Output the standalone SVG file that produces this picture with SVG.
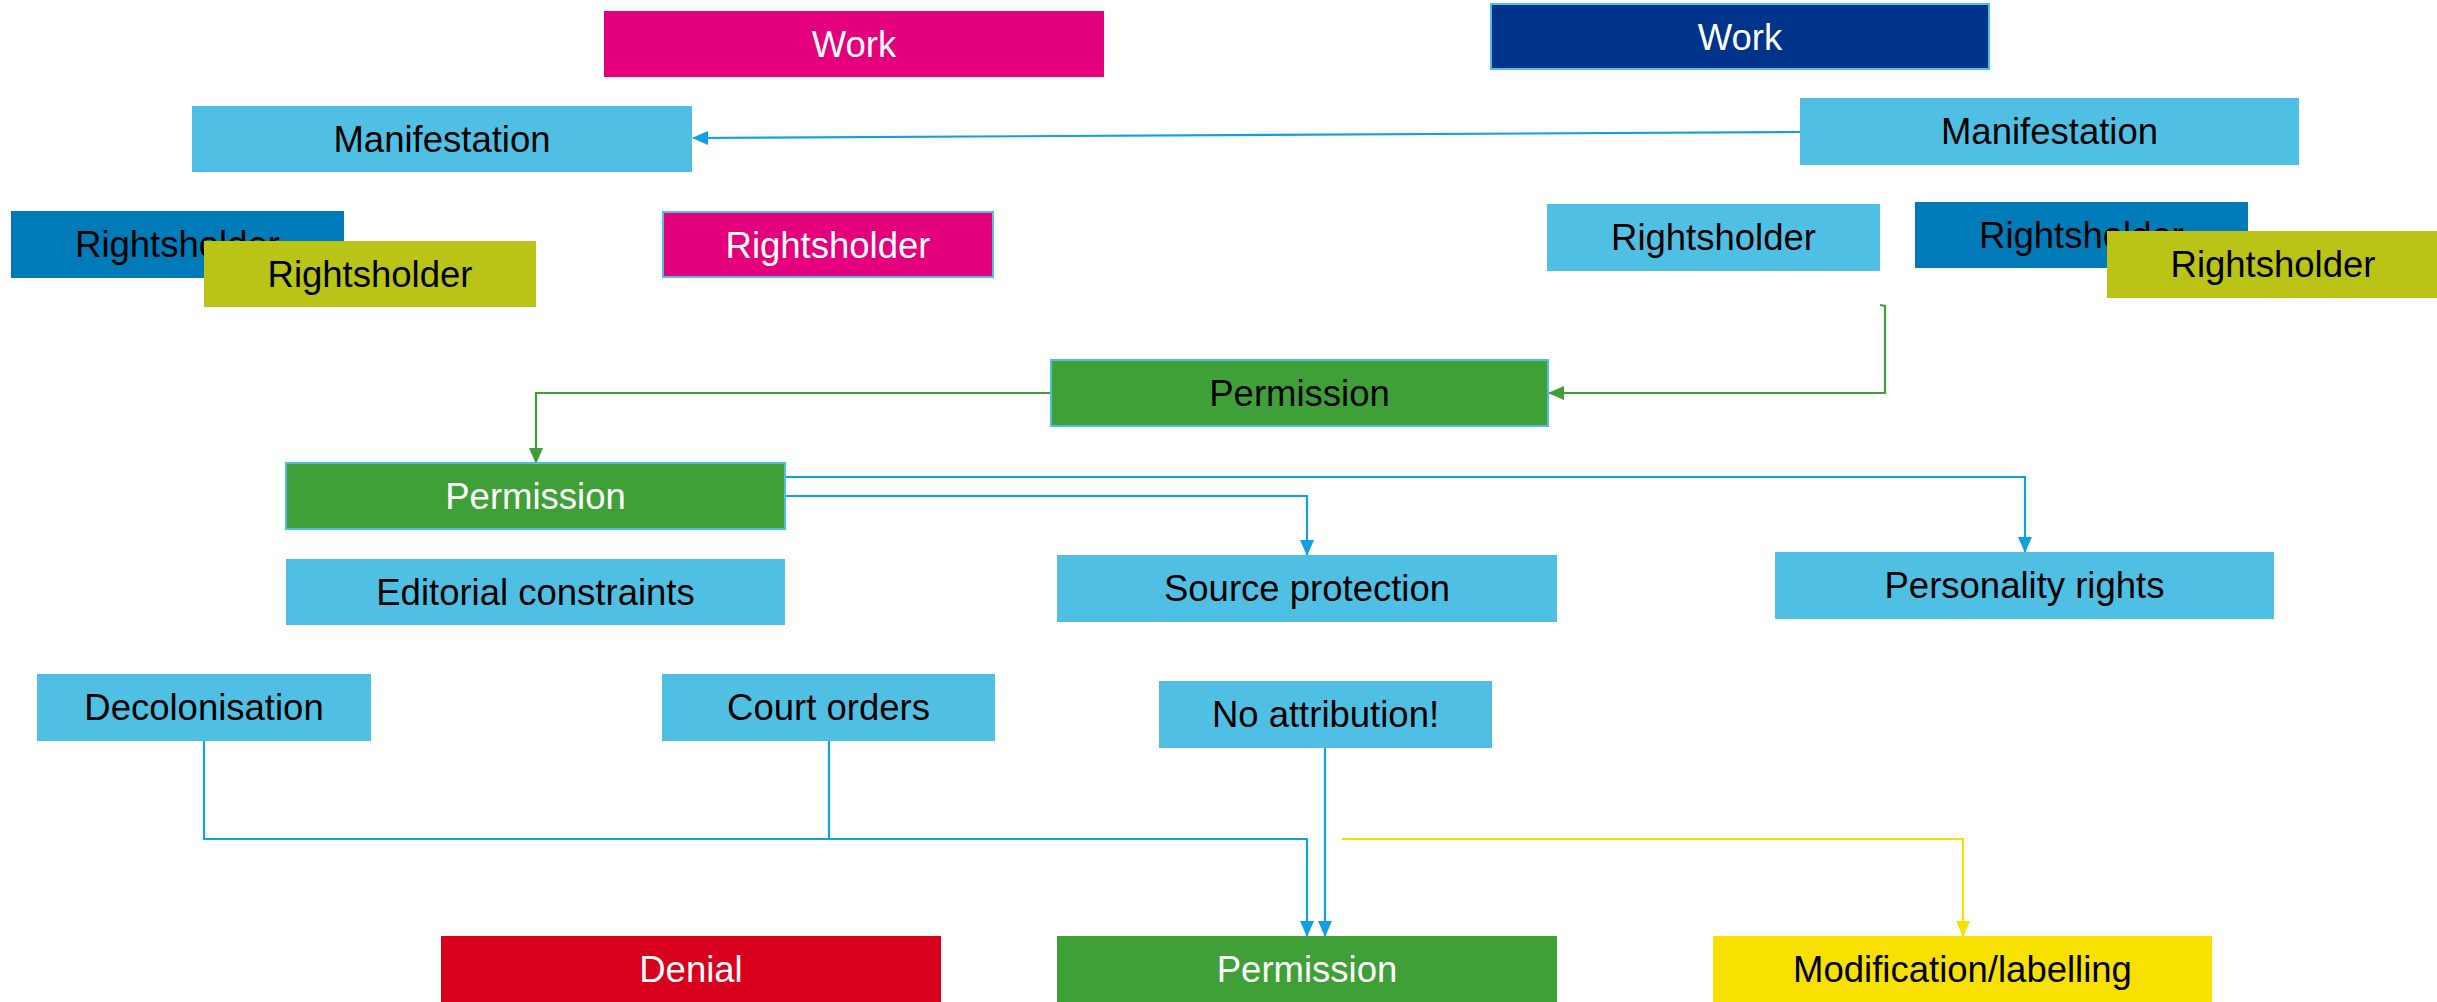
<svg xmlns="http://www.w3.org/2000/svg" width="2437" height="1002" viewBox="0 0 2437 1002">
<style>
text{font-family:"Liberation Sans",Arial,sans-serif;font-size:36.5px;text-anchor:middle}
.w{fill:#ffffff}.k{fill:#000000}
.lb{fill:#4FC0E3}.pk{fill:#E4007C}.nv{fill:#00338A}.db{fill:#007BB9}.ol{fill:#BAC417}.gr{fill:#3FA037}.rd{fill:#D9001D}.yl{fill:#F8E000}
.bd{stroke:#4FC0E3;stroke-width:2}
.cb{fill:none;stroke:#13A0E3;stroke-width:2.2}
.cg{fill:none;stroke:#3F9E36;stroke-width:2.2}
.cy{fill:none;stroke:#F6E000;stroke-width:2.2}
</style>
<defs>
<marker id="ab" markerUnits="userSpaceOnUse" markerWidth="16" markerHeight="14" refX="15" refY="7" orient="auto"><path d="M0,0 L16,7 L0,14 Z" fill="#13A0E3"/></marker>
<marker id="ag" markerUnits="userSpaceOnUse" markerWidth="16" markerHeight="14" refX="15" refY="7" orient="auto"><path d="M0,0 L16,7 L0,14 Z" fill="#3F9E36"/></marker>
<marker id="ay" markerUnits="userSpaceOnUse" markerWidth="16" markerHeight="14" refX="15" refY="7" orient="auto"><path d="M0,0 L16,7 L0,14 Z" fill="#F6E000"/></marker>
</defs>
<rect width="2437" height="1002" fill="#ffffff"/>
<g id="connectors">
<path class="cb" d="M1800,132 L693,138" stroke-width="3" marker-end="url(#ab)"/>
<path class="cg" d="M1880,305 L1885,306 L1885,393 L1549,393" marker-end="url(#ag)"/>
<path class="cg" d="M1051,393 L536,393 L536,463" marker-end="url(#ag)"/>
<path class="cb" d="M785,477 L2025,477 L2025,552" marker-end="url(#ab)"/>
<path class="cb" d="M785,496 L1307,496 L1307,555" marker-end="url(#ab)"/>
<path class="cb" d="M204,741 L204,839 L1307,839 L1307,936" marker-end="url(#ab)"/>
<path class="cb" d="M829,741 L829,839"/>
<path class="cb" d="M1325,748 L1325,936" marker-end="url(#ab)"/>
<path class="cy" d="M1342,839 L1963,839 L1963,936" marker-end="url(#ay)"/>
</g>
<g id="work-pink"><rect class="pk" x="604" y="11" width="500" height="66"/><text class="w" x="854" y="57">Work</text></g>
<g id="work-navy"><rect class="nv bd" x="1491" y="4" width="498" height="65"/><text class="w" x="1740" y="50">Work</text></g>
<g id="manifestation-left"><rect class="lb" x="192" y="106" width="500" height="66"/><text class="k" x="442" y="152">Manifestation</text></g>
<g id="manifestation-right"><rect class="lb" x="1800" y="98" width="499" height="67"/><text class="k" x="2049.5" y="144">Manifestation</text></g>
<g id="rightsholder-darkblue-left"><rect class="db" x="11" y="211" width="333" height="67"/><text class="k" x="177.5" y="257">Rightsholder</text></g>
<g id="rightsholder-olive-left"><rect class="ol" x="204" y="241" width="332" height="66"/><text class="k" x="370" y="287">Rightsholder</text></g>
<g id="rightsholder-pink"><rect class="pk bd" x="663" y="212" width="330" height="65"/><text class="w" x="828" y="258">Rightsholder</text></g>
<g id="rightsholder-lightblue"><rect class="lb" x="1547" y="204" width="333" height="67"/><text class="k" x="1713.5" y="250">Rightsholder</text></g>
<g id="rightsholder-darkblue-right"><rect class="db" x="1915" y="202" width="333" height="66"/><text class="k" x="2081.5" y="248">Rightsholder</text></g>
<g id="rightsholder-olive-right"><rect class="ol" x="2107" y="231" width="333" height="67"/><text class="k" x="2273" y="277">Rightsholder</text></g>
<g id="permission-top"><rect class="gr bd" x="1051" y="360" width="497" height="66"/><text class="k" x="1299.5" y="406">Permission</text></g>
<g id="permission-mid"><rect class="gr bd" x="286" y="463" width="499" height="66"/><text class="w" x="535.5" y="509">Permission</text></g>
<g id="editorial-constraints"><rect class="lb" x="286" y="559" width="499" height="66"/><text class="k" x="535.5" y="605">Editorial constraints</text></g>
<g id="source-protection"><rect class="lb" x="1057" y="555" width="500" height="67"/><text class="k" x="1307" y="601">Source protection</text></g>
<g id="personality-rights"><rect class="lb" x="1775" y="552" width="499" height="67"/><text class="k" x="2024.5" y="598">Personality rights</text></g>
<g id="decolonisation"><rect class="lb" x="37" y="674" width="334" height="67"/><text class="k" x="204" y="720">Decolonisation</text></g>
<g id="court-orders"><rect class="lb" x="662" y="674" width="333" height="67"/><text class="k" x="828.5" y="720">Court orders</text></g>
<g id="no-attribution"><rect class="lb" x="1159" y="681" width="333" height="67"/><text class="k" x="1325.5" y="727">No attribution!</text></g>
<g id="denial"><rect class="rd" x="441" y="936" width="500" height="66"/><text class="w" x="691" y="982">Denial</text></g>
<g id="permission-bottom"><rect class="gr" x="1057" y="936" width="500" height="66"/><text class="w" x="1307" y="982">Permission</text></g>
<g id="modification-labelling"><rect class="yl" x="1713" y="936" width="499" height="66"/><text class="k" x="1962.5" y="982">Modification/labelling</text></g>
</svg>
